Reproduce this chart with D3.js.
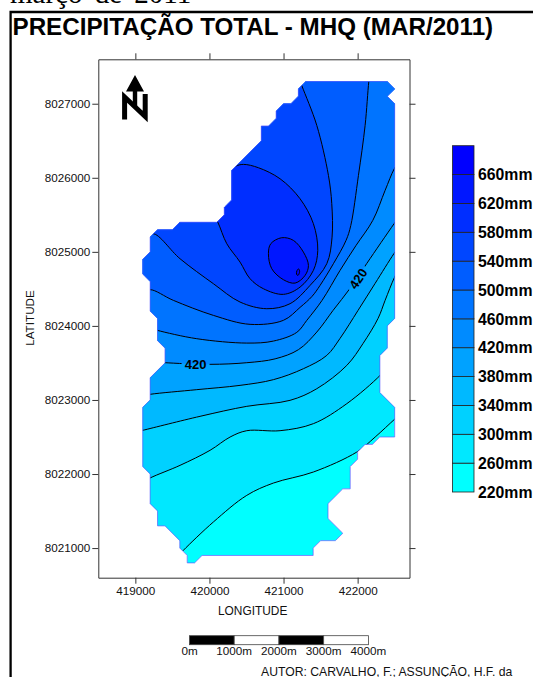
<!DOCTYPE html>
<html>
<head>
<meta charset="utf-8">
<title>Precipitação total - MHQ</title>
<script src="https://cdn.jsdelivr.net/npm/d3@7"></script>
<style>
  html, body { margin: 0; padding: 0; background: #fff; overflow: hidden; }
  text { font-family: "Liberation Sans", Arial, sans-serif; }
</style>
</head>
<body>
<div id="chart"></div>
<script>
// Map extent and ticks (UTM metres)
const lonDomain = [418500, 422700];
const latDomain = [8020600, 8027600];
const lonTicks = [419000, 420000, 421000, 422000];
const latTicks = [8021000, 8022000, 8023000, 8024000, 8025000, 8026000, 8027000];

// Legend levels in mm, bottom to top
const levels = [220, 260, 300, 340, 380, 420, 460, 500, 540, 580, 620, 660];
const legendTop = 700;

// Outline of the area that was interpolated (100 m grid)
const boundary = [
  [421300,8027300],[422400,8027300],[422500,8027200],[422400,8027100],[422500,8027000],
  [422500,8024100],[422400,8024000],[422400,8023700],[422300,8023600],[422300,8023100],
  [422500,8022900],[422500,8022500],[422300,8022500],[422200,8022400],[422100,8022400],
  [422000,8022300],[422000,8022200],[421900,8022100],[421900,8021800],[421800,8021800],
  [421600,8021600],[421600,8021400],[421800,8021200],[421700,8021100],[421500,8021100],
  [421400,8021000],[421400,8020900],[419900,8020900],[419800,8020800],[419700,8020800],
  [419700,8020900],[419600,8021000],[419600,8021100],[419400,8021300],[419300,8021300],
  [419300,8021500],[419200,8021600],[419200,8022000],[419100,8022100],[419100,8022900],
  [419200,8023000],[419200,8023300],[419400,8023500],[419400,8023700],[419300,8023800],
  [419300,8024100],[419200,8024200],[419200,8024600],[419100,8024700],[419100,8024900],
  [419200,8025000],[419200,8025200],[419300,8025300],[419500,8025300],[419600,8025400],
  [420100,8025400],[420200,8025500],[420200,8025600],[420300,8025700],[420300,8026100],
  [420400,8026200],[420700,8026500],[420700,8026700],[420800,8026700],[420900,8026800],
  [420900,8026900],[421000,8027000],[421100,8027000],[421200,8027100],[421200,8027200]
];

// Contour lines. Open ones run past the outline and get clipped.
const contour260 = [[419554,8020870],[419648,8020970],[420053,8021352],[420504,8021712],[420863,8021878],[421403,8022027],[421989,8022297],[422236,8022499],[422497,8022738],[422600,8022830]];
const contour300 = [[419063,8021870],[419198,8021946],[419603,8022117],[420008,8022320],[420278,8022499],[420504,8022585],[420953,8022585],[421403,8022680],[421854,8022950],[422303,8023332],[422397,8023450]];
const contour340 = [[419014,8022570],[419100,8022590],[419873,8022779],[420504,8022914],[421088,8022995],[421449,8023152],[421854,8023467],[422074,8023764],[422276,8024102],[422371,8024345],[422497,8024655],[422600,8024850]];
const contour380 = [[419063,8023050],[419198,8023076],[419829,8023139],[420413,8023197],[420863,8023274],[421268,8023422],[421584,8023602],[421763,8023832],[422006,8024210],[422236,8024574],[422492,8024979],[422600,8025130]];
const contour420 = [[419298,8023510],[419401,8023503],[420008,8023481],[420504,8023503],[420886,8023555],[421201,8023679],[421449,8023917],[421669,8024210],[421898,8024507],[422124,8024844],[422492,8025380],[422600,8025530]];
const contour460 = [[419200,8023970],[419297,8023940],[419829,8023827],[420504,8023768],[420863,8023795],[421179,8023913],[421314,8024075],[421520,8024345],[421763,8024750],[421979,8025087],[422205,8025425],[422371,8025830],[422497,8026127],[422600,8026280]];
const contour500 = [[419103,8024440],[419198,8024489],[419513,8024345],[420053,8024142],[420548,8024021],[420998,8024075],[421223,8024250],[421385,8024399],[421493,8024547],[421673,8024840],[421844,8025155],[421908,8025357],[422011,8026032],[422101,8026707],[422151,8027301],[422171,8027450]];
const contour540 = [[419103,8025120],[419235,8025245],[419603,8024907],[420053,8024570],[420413,8024322],[420774,8024232],[421088,8024300],[421358,8024547],[421584,8024840],[421655,8025199],[421651,8025650],[421606,8026032],[421449,8026707],[421246,8027247],[421191,8027400]];
const contour580 = [[420035,8025533],[420112,8025402],[420234,8025110],[420413,8024862],[420548,8024637],[420728,8024502],[420998,8024426],[421223,8024524],[421403,8024750],[421462,8025020],[421403,8025380],[421223,8025717],[420953,8025987],[420661,8026136],[420458,8026181],[420346,8026154],[420170,8026046]];
const contour620 = [[420796,8024975],[420828,8025110],[420976,8025191],[421133,8025155],[421268,8024997],[421336,8024817],[421291,8024682],[421156,8024578],[420998,8024624],[420841,8024772]];
const contour660 = [[421203,8024770],[421217,8024736],[421196,8024682],[421176,8024696],[421180,8024743]];

const contours = [
  { level: 260, pts: contour260 }, { level: 300, pts: contour300 }, { level: 340, pts: contour340 },
  { level: 380, pts: contour380 }, { level: 420, pts: contour420 }, { level: 460, pts: contour460 },
  { level: 500, pts: contour500 }, { level: 540, pts: contour540 }, { level: 580, pts: contour580, shut: true },
  { level: 620, pts: contour620, loop: true }, { level: 660, pts: contour660, loop: true }
];

// Inline contour labels
const contourLabels = [
  { text: '420', lon: 419813, lat: 8023480, angle: 0 },
  { text: '420', lon: 422006, lat: 8024637, angle: -56 }
];

// Graphic scale
const barStops = [0, 1000, 2000, 3000, 4000];

const width = 533, height = 677;
const svg = d3.select('#chart').append('svg').attr('width', width).attr('height', height).style('display', 'block');

// Heading cut off at the top of the page
svg.append('text').attr('x', 10).attr('y', 3)
  .style('font-family', '"Liberation Serif", serif').style('font-size', '29px')
  .style('word-spacing', '5px')
  .text('março de 2011');

// Page frame
svg.append('path').attr('d', 'M533,12H10.6V677').attr('fill', 'none').attr('stroke', '#000').attr('stroke-width', 2.3);

svg.append('text').attr('x', 12.5).attr('y', 35)
  .style('font-size', '24.2px').style('font-weight', 'bold')
  .text('PRECIPITAÇÃO TOTAL - MHQ (MAR/2011)');

const x = d3.scaleLinear().domain(lonDomain).range([98.3, 409.5]);
const y = d3.scaleLinear().domain(latDomain).range([577.7, 59.3]);

const color = d3.scaleLinear().domain([220, 660])
  .range(['rgb(0,255,255)', 'rgb(0,0,255)']);

const defs = svg.append('defs');
const outline = d3.line().x(d => x(d[0])).y(d => y(d[1])).curve(d3.curveLinearClosed);
const smooth = d3.line().x(d => x(d[0])).y(d => y(d[1])).curve(d3.curveCatmullRom.alpha(0.5));
const smoothLoop = d3.line().x(d => x(d[0])).y(d => y(d[1])).curve(d3.curveCatmullRomClosed.alpha(0.5));

defs.append('clipPath').attr('id', 'area-clip').append('path').attr('d', outline(boundary));

// The fill of each level covers everything above that contour
function fillPath(c) {
  if (c.loop) return smoothLoop(c.pts);
  if (c.shut) return smooth(c.pts) + 'Z';
  const first = c.pts[0], last = c.pts[c.pts.length - 1];
  const farX = x(423000), farY = y(8027700), backX = x(418800);
  let tail = '';
  if (last[1] < 8027300) tail += `L${farX},${y(last[1])}L${farX},${farY}`;
  else tail += `L${x(last[0])},${farY}`;
  tail += `L${backX},${farY}L${backX},${y(first[1])}Z`;
  return smooth(c.pts) + tail;
}

const map = svg.append('g').attr('clip-path', 'url(#area-clip)');
map.append('path').attr('d', outline(boundary)).attr('fill', color(220));
map.selectAll('.band').data(contours).enter().append('path')
  .attr('class', 'band')
  .attr('d', fillPath)
  .attr('fill', d => color(d.level));

// Contour lines have gaps where the labels sit
const mask = defs.append('mask').attr('id', 'label-gaps').attr('maskUnits', 'userSpaceOnUse')
  .attr('x', 0).attr('y', 0).attr('width', width).attr('height', height);
mask.append('rect').attr('width', width).attr('height', height).attr('fill', '#fff');
mask.selectAll('rect.gap').data(contourLabels).enter().append('rect')
  .attr('class', 'gap').attr('x', -14).attr('y', -6).attr('width', 28).attr('height', 12).attr('fill', '#000')
  .attr('transform', d => `translate(${x(d.lon)},${y(d.lat)}) rotate(${d.angle})`);

map.append('g').attr('mask', 'url(#label-gaps)')
  .selectAll('path').data(contours).enter().append('path')
  .attr('d', d => d.loop ? smoothLoop(d.pts) : smooth(d.pts))
  .attr('fill', 'none').attr('stroke', '#000').attr('stroke-width', 1);

svg.append('path').attr('d', outline(boundary))
  .attr('fill', 'none').attr('stroke', '#5a5aff').attr('stroke-width', 0.7);

svg.selectAll('.contour-label').data(contourLabels).enter().append('text')
  .attr('class', 'contour-label')
  .attr('transform', d => `translate(${x(d.lon)},${y(d.lat)}) rotate(${d.angle})`)
  .attr('text-anchor', 'middle').attr('dy', '0.36em')
  .style('font-size', '13px').style('font-weight', 'bold')
  .text(d => d.text);

// Axes on all four sides, labels only left and bottom
function styleAxis(g) {
  g.selectAll('.domain').attr('stroke', '#333').attr('stroke-width', 1);
  g.selectAll('.tick line').attr('stroke', '#333');
  g.selectAll('.tick text').attr('fill', '#111').style('font-size', '11.7px').style('font-family', '"Liberation Sans", Arial, sans-serif');
}
svg.append('g').attr('transform', `translate(0,${y.range()[0]})`)
  .call(d3.axisBottom(x).tickValues(lonTicks).tickFormat(d3.format('d')).tickSize(6).tickSizeOuter(0).tickPadding(3)).call(styleAxis);
svg.append('g').attr('transform', `translate(0,${y.range()[1]})`)
  .call(d3.axisTop(x).tickValues(lonTicks).tickFormat('').tickSize(6).tickSizeOuter(0)).call(styleAxis);
svg.append('g').attr('transform', `translate(${x.range()[0]},0)`)
  .call(d3.axisLeft(y).tickValues(latTicks).tickFormat(d3.format('d')).tickSize(6).tickSizeOuter(0).tickPadding(2)).call(styleAxis);
svg.append('g').attr('transform', `translate(${x.range()[1]},0)`)
  .call(d3.axisRight(y).tickValues(latTicks).tickFormat('').tickSize(6).tickSizeOuter(0)).call(styleAxis);

svg.append('text').attr('x', 252.7).attr('y', 615).attr('text-anchor', 'middle')
  .attr('fill', '#111').style('font-size', '11.9px').text('LONGITUDE');
svg.append('text').attr('transform', 'translate(34,318) rotate(-90)').attr('text-anchor', 'middle')
  .attr('fill', '#111').style('font-size', '11.7px').text('LATITUDE');

// North arrow
const north = svg.append('g');
north.append('path').attr('d', 'M135,75L144,91.5H137.2V106H132.8V91.5H126Z').attr('fill', '#000');
north.append('path').attr('d', 'M124.6,119.5V97L145.2,116.5V94').attr('fill', 'none').attr('stroke', '#000').attr('stroke-width', 5);

// Colour legend
const legendY = d3.scaleLinear().domain([220, legendTop]).range([492, 145.7]);
const legend = svg.append('g');
legend.selectAll('rect').data(levels).enter().append('rect')
  .attr('x', 452.5).attr('width', 21.5)
  .attr('y', d => legendY(d + 40)).attr('height', d => legendY(d) - legendY(d + 40))
  .attr('fill', d => color(d)).attr('stroke', '#222').attr('stroke-width', 0.8);
legend.selectAll('text').data(levels).enter().append('text')
  .attr('x', 478).attr('y', d => legendY(d)).attr('dy', '0.36em')
  .style('font-size', '15.8px').style('font-weight', 'bold')
  .text(d => d + 'mm');

// Graphic scale
const barX = d3.scaleLinear().domain([0, 4000]).range([189.5, 368.4]);
const bar = svg.append('g');
bar.selectAll('rect').data(barStops.slice(0, -1)).enter().append('rect')
  .attr('x', d => barX(d)).attr('y', 635.7).attr('width', d => barX(d + 1000) - barX(d)).attr('height', 9)
  .attr('fill', (d, i) => i % 2 === 0 ? '#000' : '#fff').attr('stroke', '#444').attr('stroke-width', 0.8);
bar.selectAll('text').data(barStops).enter().append('text')
  .attr('x', d => barX(d)).attr('y', 655).attr('text-anchor', 'middle')
  .attr('fill', '#111').style('font-size', '11.7px')
  .text(d => d + 'm');

svg.append('text').attr('x', 261).attr('y', 676)
  .attr('fill', '#111').style('font-size', '12.2px')
  .text('AUTOR: CARVALHO, F.; ASSUNÇÃO, H.F. da');
</script>
</body>
</html>
